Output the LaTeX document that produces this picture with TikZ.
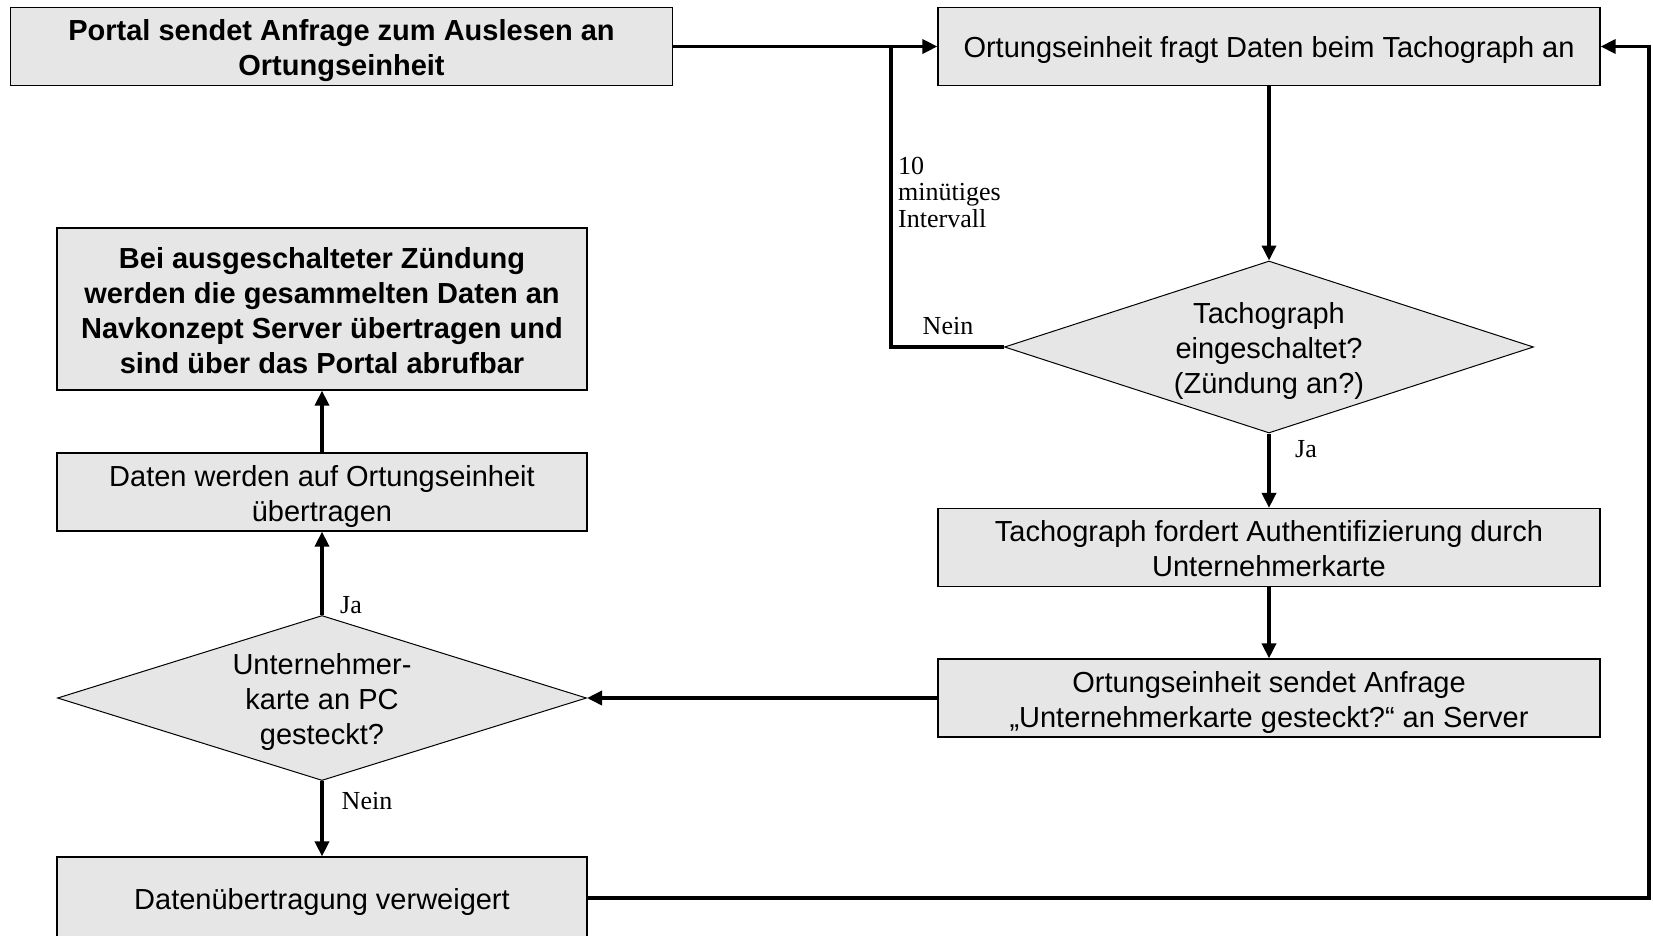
\documentclass[tikz,border=0pt]{standalone}
\usepackage{fontspec}
\setmainfont{Liberation Sans}
\newfontfamily\lblfont{Liberation Serif}
\usetikzlibrary{shapes.geometric,arrows.meta}
\definecolor{boxgray}{HTML}{E6E6E6}
\newcommand\topstrut{\rule{0pt}{29pt}}
\newcommand\botstrut{\rule[-6pt]{0pt}{6pt}}
\begin{document}
\begin{tikzpicture}[x=1pt,y=-1pt,
  txt/.style={font=\fontsize{29}{35}\selectfont, align=center, inner sep=0pt},
  procbox/.style={txt, draw=black, fill=boxgray, line width=1.2pt, rectangle},
  widebox/.style={procbox, minimum width=662pt, minimum height=78pt},
  leftbox/.style={procbox, minimum width=530pt, minimum height=78pt},
  decision/.style={txt, draw=black, fill=boxgray, line width=1pt, diamond, aspect=3.1, minimum width=529pt},
  conn/.style={line width=3.5pt, line join=miter, -{Triangle[length=15pt,width=14pt]}},
  plainconn/.style={line width=3.5pt, line join=miter},
  lbl/.style={font=\lblfont\fontsize{26}{26.5}\selectfont, inner sep=0pt, align=left}]
\useasboundingbox (0,0) rectangle (1653,935);
\fill[white] (0,0) rectangle (1653,935);

\node[widebox, font=\bfseries\fontsize{29}{35}\selectfont] (b1) at (341.5,46.5) {\topstrut Portal sendet Anfrage zum Auslesen an\\Ortungseinheit\botstrut};
\node[widebox] (b2) at (1269,46.5) {\topstrut Ortungseinheit fragt Daten beim Tachograph an\botstrut};
\node[decision, minimum height=172pt] (d1) at (1269,347) {\topstrut Tachograph\\eingeschaltet?\\(Zündung an?)\botstrut};
\node[widebox] (b3) at (1269,547.5) {\topstrut Tachograph fordert Authentifizierung durch\\Unternehmerkarte\botstrut};
\node[widebox] (b4) at (1269,698) {\topstrut Ortungseinheit sendet Anfrage\\„Unternehmerkarte gesteckt?“ an Server\botstrut};
\node[decision, minimum height=165pt] (d2) at (322,698) {\topstrut Unternehmer-\\karte an PC\\gesteckt?\botstrut};
\node[leftbox] (b5) at (322,492) {\topstrut Daten werden auf Ortungseinheit\\übertragen\botstrut};
\node[leftbox, minimum height=162pt, font=\bfseries\fontsize{29}{35}\selectfont] (b6) at (322,309) {\topstrut Bei ausgeschalteter Zündung\\werden die gesammelten Daten an\\Navkonzept Server übertragen und\\sind über das Portal abrufbar\botstrut};
\node[leftbox, minimum height=82pt] (b7) at (322,898) {\topstrut Datenübertragung verweigert\botstrut};

\coordinate (lc) at (891,46.5);
\coordinate (rc) at (1649,898);

\draw[conn] (b1.east) -- (b2.west);
\draw[plainconn] (d1.west) -| (lc);
\draw[conn] (b2.south) -- (d1.north);
\draw[conn] (d1.south) -- (b3.north);
\draw[conn] (b3.south) -- (b4.north);
\draw[conn] (b4.west) -- (d2.east);
\draw[conn] (d2.north) -- (b5.south);
\draw[conn] (b5.north) -- (b6.south);
\draw[conn] (d2.south) -- (b7.north);
\draw[conn] (b7.east) -- (rc) |- (b2.east);

\node[lbl] (n1) at (948,326) {Nein};
\node[lbl, anchor=west] (iv) at (898,192) {10\\minütiges\\Intervall};
\node[lbl] (j1) at (1306,449) {Ja};
\node[lbl] (j2) at (351,605) {Ja};
\node[lbl] (n2) at (367,801) {Nein};
\end{tikzpicture}
\end{document}
